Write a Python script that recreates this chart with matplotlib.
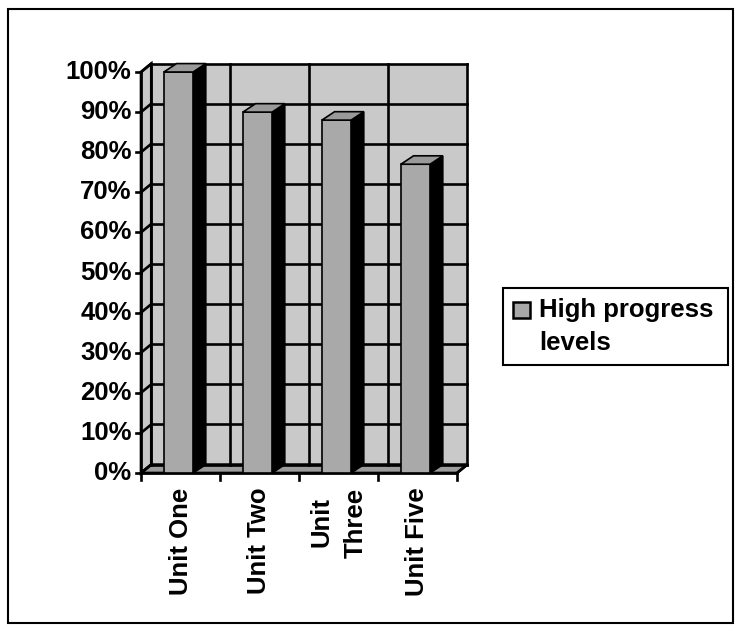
import matplotlib
matplotlib.use("Agg")
import matplotlib.pyplot as plt
from matplotlib.patches import Polygon, Rectangle

# Chart data
categories = ["Unit One", "Unit Two", "Unit\nThree", "Unit Five"]
values = [100, 90, 88, 77]
y_ticks = [0, 10, 20, 30, 40, 50, 60, 70, 80, 90, 100]
y_tick_labels = [f"{t}%" for t in y_ticks]
series_name = "High progress\nlevels"

plt.rcParams["font.family"] = ["Liberation Sans", "DejaVu Sans"]
plt.rcParams["font.weight"] = "bold"
FS = 18.5

W, H = 746, 636
fig = plt.figure(figsize=(W / 100, H / 100), dpi=100)
fig.patch.set_facecolor("white")


def fx(px):
    return px / W


def fy(py):
    return 1 - py / H


# front plane of the 3-D box: x from 141 px to 457 px, 0% at 473 px, 100% at 72 px
ax = fig.add_axes([fx(141), fy(473), fx(457) - fx(141), fy(72) - fy(473)])
n = len(categories)
ax.set_xlim(0, n)
ax.set_ylim(0, 100)
ax.axis("off")

# depth of the 3-D projection, in data units
DX, DY = 0.13, 2.1          # walls
BDX, BDY = 0.16, 2.1        # bars
BAR_OFF, BAR_W = 0.29, 0.37

WALL = "#c9c9c9"
BAR = "#a9a9a9"
LW = 1.9

# back wall
ax.add_patch(Polygon([(DX, DY), (n + DX, DY), (n + DX, 100 + DY), (DX, 100 + DY)],
                     closed=True, facecolor=WALL, edgecolor="none", zorder=1, clip_on=False))
# left side wall
ax.add_patch(Polygon([(0, 0), (DX, DY), (DX, 100 + DY), (0, 100)],
                     closed=True, facecolor=WALL, edgecolor="black", lw=LW, zorder=2, clip_on=False))
# floor
ax.add_patch(Polygon([(0, 0), (n, 0), (n + DX, DY), (DX, DY)],
                     closed=True, facecolor="#9c9c9c", edgecolor="black", lw=LW, zorder=2, clip_on=False))

# horizontal gridlines on the back wall, depth connectors, ticks and labels
for t, lab in zip(y_ticks, y_tick_labels):
    ax.plot([DX, n + DX], [t + DY, t + DY], color="black", lw=LW, zorder=2, clip_on=False)
    ax.plot([0, DX], [t, t + DY], color="black", lw=LW, zorder=2, clip_on=False)
    ax.plot([-0.065, 0], [t, t], color="black", lw=LW, zorder=2, clip_on=False)
    ax.text(-0.12, t, lab, ha="right", va="center", fontsize=FS,
            fontweight="bold", zorder=5)

# vertical gridlines on the back wall at category boundaries
for i in range(n + 1):
    ax.plot([i + DX, i + DX], [DY, 100 + DY], color="black", lw=LW, zorder=2, clip_on=False)
    ax.plot([i, i], [0, -1.8], color="black", lw=LW, zorder=2, clip_on=False)

# front axis lines
ax.plot([0, 0], [0, 100], color="black", lw=LW, zorder=2, clip_on=False)
ax.plot([0, n], [0, 0], color="black", lw=LW, zorder=2, clip_on=False)
ax.plot([n, n + DX], [0, DY], color="black", lw=LW, zorder=2, clip_on=False)

# bars: front faces
lefts = [i + BAR_OFF for i in range(n)]
ax.bar(lefts, values, width=BAR_W, align="edge", color=BAR, edgecolor="black",
       lw=1.2, zorder=4, clip_on=False)
# bars: side and top faces
for x0, v in zip(lefts, values):
    x1 = x0 + BAR_W
    ax.add_patch(Polygon([(x1, 0), (x1 + BDX, BDY), (x1 + BDX, v + BDY), (x1, v)],
                         closed=True, facecolor="black", edgecolor="black", lw=1.2,
                         zorder=3, clip_on=False))
    ax.add_patch(Polygon([(x0, v), (x1, v), (x1 + BDX, v + BDY), (x0 + BDX, v + BDY)],
                         closed=True, facecolor="#9a9a9a", edgecolor="black", lw=1.2,
                         zorder=4, clip_on=False))

# category labels
for i, lab in enumerate(categories):
    ax.text(i + 0.5, -3.6, lab, rotation=90, ha="center", va="top",
            multialignment="center", fontsize=FS, fontweight="bold",
            linespacing=1.55, zorder=5)

# legend
fig.add_artist(Rectangle((fx(503), fy(365)), fx(728) - fx(503), fy(288) - fy(365),
                         transform=fig.transFigure, facecolor="white",
                         edgecolor="black", lw=1.5))
fig.add_artist(Rectangle((fx(513), fy(318)), fx(530) - fx(513), fy(302) - fy(318),
                         transform=fig.transFigure, facecolor=BAR,
                         edgecolor="black", lw=1.8))
fig.text(fx(539), fy(298), series_name, ha="left", va="top", fontsize=FS,
         fontweight="bold", linespacing=1.45)

# outer chart border
fig.add_artist(Rectangle((fx(8), fy(623)), fx(733) - fx(8), fy(9) - fy(623),
                         transform=fig.transFigure, fill=False,
                         edgecolor="black", lw=1.5))

fig.savefig("out.png", dpi=100, facecolor="white")
